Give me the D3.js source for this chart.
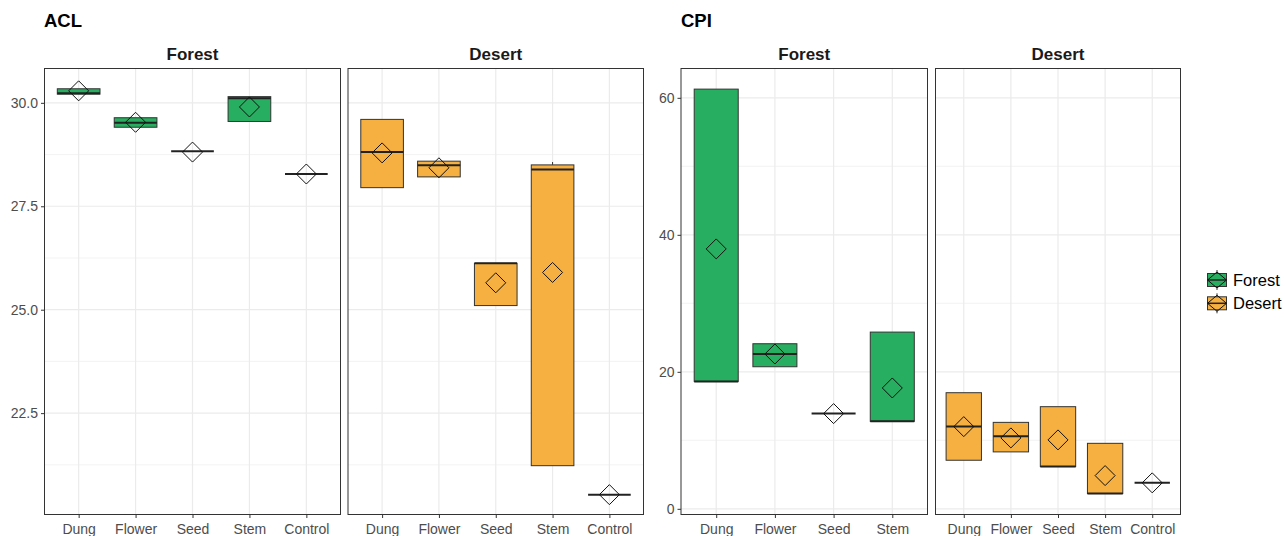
<!DOCTYPE html>
<html>
<head>
<meta charset="utf-8">
<script src="https://cdn.jsdelivr.net/npm/d3@7"></script>
<style>
  html, body { margin:0; padding:0; background:#fff; }
  svg { display:block; font-family: "Liberation Sans", Arial, sans-serif; }
</style>
</head>
<body>
<svg id="chart" width="1285" height="536"></svg>
<script>
// ---------------- DATA ----------------
const catsFive = ["Dung", "Flower", "Seed", "Stem", "Control"];
const catsFour = ["Dung", "Flower", "Seed", "Stem"];
const habitats = ["Forest", "Desert"];

// ACL - Forest
const aclForestQ1     = [30.21, 29.41, 28.83, 29.55, 28.28];
const aclForestMedian = [30.23, 29.52, 28.83, 30.11, 28.28];
const aclForestQ3     = [30.34, 29.64, 28.83, 30.15, 28.28];
const aclForestMin    = [30.21, 29.41, 28.83, 29.55, 28.28];
const aclForestMax    = [30.34, 29.64, 28.83, 30.15, 28.28];
const aclForestMean   = [30.29, 29.53, 28.81, 29.90, 28.28];

// ACL - Desert
const aclDesertQ1     = [27.95, 28.21, 25.10, 21.23, 20.53];
const aclDesertMedian = [28.81, 28.49, 26.12, 28.39, 20.53];
const aclDesertQ3     = [29.60, 28.59, 26.12, 28.50, 20.53];
const aclDesertMin    = [27.95, 28.21, 25.10, 21.23, 20.53];
const aclDesertMax    = [29.60, 28.59, 26.12, 28.57, 20.53];
const aclDesertMean   = [28.79, 28.43, 25.65, 25.90, 20.53];

// CPI - Forest
const cpiForestQ1     = [18.6, 20.74, 13.9, 12.77];
const cpiForestMedian = [18.6, 22.6, 13.9, 12.77];
const cpiForestQ3     = [61.27, 24.1, 13.9, 25.8];
const cpiForestMin    = [18.6, 20.74, 13.9, 12.77];
const cpiForestMax    = [61.27, 24.1, 13.9, 25.8];
const cpiForestMean   = [37.94, 22.6, 13.9, 17.64];

// CPI - Desert
const cpiDesertQ1     = [7.09, 8.31, 6.17, 2.23, 3.79];
const cpiDesertMedian = [12.0, 10.58, 6.17, 2.23, 3.79];
const cpiDesertQ3     = [16.95, 12.62, 14.91, 9.56, 3.79];
const cpiDesertMin    = [7.09, 8.31, 6.17, 2.23, 3.79];
const cpiDesertMax    = [16.95, 12.62, 14.91, 9.56, 3.79];
const cpiDesertMean   = [12.0, 10.35, 10.06, 4.85, 3.79];

// Axis ticks
const aclTicks = [22.5, 25.0, 27.5, 30.0];
const aclMinor = [21.25, 23.75, 26.25, 28.75];
const cpiTicks = [0, 20, 40, 60];
const cpiMinor = [10, 30, 50];

// ---------------- STYLE ----------------
const colors = { Forest: "#27ae60", Desert: "#f5b041" };
const svg = d3.select("#chart");

function drawPanel(p) {
  const g = svg.append("g");
  const x = d3.scalePoint().domain(p.cats).range([p.x0, p.x1]).padding(0.6);
  const y = d3.scaleLinear().domain(p.ydom).range([p.y1, p.y0]);
  const bw = x.step() * 0.75;

  // grid
  g.selectAll(".minor").data(p.minor).join("line")
    .attr("x1", p.x0).attr("x2", p.x1)
    .attr("y1", d => y(d)).attr("y2", d => y(d))
    .attr("stroke", "#f0f0f0").attr("stroke-width", 0.8);
  g.selectAll(".major").data(p.ticks).join("line")
    .attr("x1", p.x0).attr("x2", p.x1)
    .attr("y1", d => y(d)).attr("y2", d => y(d))
    .attr("stroke", "#ebebeb").attr("stroke-width", 1.2);
  g.selectAll(".vgrid").data(p.cats).join("line")
    .attr("x1", d => x(d)).attr("x2", d => x(d))
    .attr("y1", p.y0).attr("y2", p.y1)
    .attr("stroke", "#ebebeb").attr("stroke-width", 1.2);

  const idx = d3.range(p.cats.length);
  // whiskers
  g.selectAll(".whU").data(idx).join("line")
    .attr("x1", i => x(p.cats[i])).attr("x2", i => x(p.cats[i]))
    .attr("y1", i => y(p.q3[i])).attr("y2", i => y(p.max[i]))
    .attr("stroke", "#333").attr("stroke-width", 1);
  g.selectAll(".whL").data(idx).join("line")
    .attr("x1", i => x(p.cats[i])).attr("x2", i => x(p.cats[i]))
    .attr("y1", i => y(p.q1[i])).attr("y2", i => y(p.min[i]))
    .attr("stroke", "#333").attr("stroke-width", 1);
  // boxes
  g.selectAll(".box").data(idx).join("rect")
    .attr("x", i => x(p.cats[i]) - bw / 2)
    .attr("width", bw)
    .attr("y", i => y(p.q3[i]))
    .attr("height", i => Math.max(0, y(p.q1[i]) - y(p.q3[i])))
    .attr("fill", colors[p.habitat])
    .attr("stroke", "#333").attr("stroke-width", 1);
  // medians
  g.selectAll(".med").data(idx).join("line")
    .attr("x1", i => x(p.cats[i]) - bw / 2).attr("x2", i => x(p.cats[i]) + bw / 2)
    .attr("y1", i => y(p.median[i])).attr("y2", i => y(p.median[i]))
    .attr("stroke", "#222").attr("stroke-width", 2);
  // mean diamonds
  const r = 10;
  g.selectAll(".mean").data(idx).join("path")
    .attr("d", i => {
      const cx = x(p.cats[i]), cy = y(p.mean[i]);
      return `M${cx},${cy - r}L${cx + r},${cy}L${cx},${cy + r}L${cx - r},${cy}Z`;
    })
    .attr("fill", "none").attr("stroke", "#111").attr("stroke-width", 1);

  // panel border
  g.append("rect").attr("x", p.x0).attr("y", p.y0)
    .attr("width", p.x1 - p.x0).attr("height", p.y1 - p.y0)
    .attr("fill", "none").attr("stroke", "#333").attr("stroke-width", 1);

  // strip label
  g.append("text").attr("x", (p.x0 + p.x1) / 2).attr("y", 60)
    .attr("text-anchor", "middle").attr("font-weight", "bold")
    .attr("font-size", 17).attr("fill", "#1a1a1a").text(p.habitat);

  // x axis
  const xa = g.append("g").attr("transform", `translate(0,${p.y1})`)
    .call(d3.axisBottom(x).tickSize(3.5).tickPadding(6));
  xa.select(".domain").remove();
  xa.selectAll("line").attr("stroke", "#333");
  xa.selectAll("text").attr("font-size", 14).attr("fill", "#4d4d4d")
    .attr("font-family", "Liberation Sans, Arial, sans-serif");

  if (p.showY) {
    const ya = g.append("g").attr("transform", `translate(${p.x0},0)`)
      .call(d3.axisLeft(y).tickValues(p.ticks).tickFormat(p.fmt).tickSize(3.5).tickPadding(3));
    ya.select(".domain").remove();
    ya.selectAll("line").attr("stroke", "#333");
    ya.selectAll("text").attr("font-size", 14).attr("fill", "#4d4d4d")
      .attr("font-family", "Liberation Sans, Arial, sans-serif");
  }
}

const fmt1 = d3.format(".1f");
const fmt0 = d3.format("d");
const aclDom = [20.05, 30.83];
const cpiDom = [-0.83, 64.28];

drawPanel({ x0: 44.5, x1: 340.5, y0: 68.5, y1: 514.5, cats: catsFive, habitat: habitats[0],
  q1: aclForestQ1, median: aclForestMedian, q3: aclForestQ3, min: aclForestMin, max: aclForestMax, mean: aclForestMean,
  ydom: aclDom, ticks: aclTicks, minor: aclMinor, showY: true, fmt: fmt1 });
drawPanel({ x0: 348, x1: 643.5, y0: 68.5, y1: 514.5, cats: catsFive, habitat: habitats[1],
  q1: aclDesertQ1, median: aclDesertMedian, q3: aclDesertQ3, min: aclDesertMin, max: aclDesertMax, mean: aclDesertMean,
  ydom: aclDom, ticks: aclTicks, minor: aclMinor, showY: false, fmt: fmt1 });
drawPanel({ x0: 681, x1: 927.5, y0: 68.5, y1: 514.5, cats: catsFour, habitat: habitats[0],
  q1: cpiForestQ1, median: cpiForestMedian, q3: cpiForestQ3, min: cpiForestMin, max: cpiForestMax, mean: cpiForestMean,
  ydom: cpiDom, ticks: cpiTicks, minor: cpiMinor, showY: true, fmt: fmt0 });
drawPanel({ x0: 935.5, x1: 1180.5, y0: 68.5, y1: 514.5, cats: catsFive, habitat: habitats[1],
  q1: cpiDesertQ1, median: cpiDesertMedian, q3: cpiDesertQ3, min: cpiDesertMin, max: cpiDesertMax, mean: cpiDesertMean,
  ydom: cpiDom, ticks: cpiTicks, minor: cpiMinor, showY: false, fmt: fmt0 });

// titles
svg.append("text").attr("x", 44).attr("y", 27).attr("font-weight", "bold")
  .attr("font-size", 18.5).attr("fill", "#000").text("ACL");
svg.append("text").attr("x", 681).attr("y", 27).attr("font-weight", "bold")
  .attr("font-size", 18.5).attr("fill", "#000").text("CPI");

// legend
const leg = svg.append("g");
habitats.forEach((h, i) => {
  const cy = 280 + i * 23.3, cx = 1217;
  const kg = leg.append("g");
  kg.append("line").attr("x1", cx).attr("x2", cx).attr("y1", cy - 10).attr("y2", cy + 10)
    .attr("stroke", "#333").attr("stroke-width", 1);
  kg.append("rect").attr("x", cx - 9.5).attr("y", cy - 6.5).attr("width", 19).attr("height", 13)
    .attr("fill", colors[h]).attr("stroke", "#333").attr("stroke-width", 1);
  kg.append("line").attr("x1", cx - 9.5).attr("x2", cx + 9.5).attr("y1", cy).attr("y2", cy)
    .attr("stroke", "#222").attr("stroke-width", 1.5);
  kg.append("path").attr("d", `M${cx},${cy - 8}L${cx + 9.5},${cy}L${cx},${cy + 8}L${cx - 9.5},${cy}Z`)
    .attr("fill", "none").attr("stroke", "#111").attr("stroke-width", 1);
  leg.append("text").attr("x", 1233).attr("y", cy + 6).attr("font-size", 16.5)
    .attr("fill", "#000").text(h);
});
</script>
</body>
</html>
